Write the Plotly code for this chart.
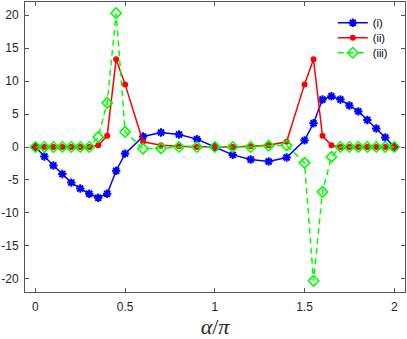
import plotly.graph_objects as go

x_vals = [0, 0.05, 0.1, 0.15, 0.2, 0.25, 0.3, 0.35, 0.4, 0.45, 0.5,
          0.6, 0.7, 0.8, 0.9, 1.0, 1.1, 1.2, 1.3, 1.4,
          1.5, 1.55, 1.6, 1.65, 1.7, 1.75, 1.8, 1.85, 1.9, 1.95, 2.0]

series_i = [0, -1.45, -2.8, -4.1, -5.4, -6.3, -7.1, -7.7, -7.1, -3.6, -1.0,
            1.6, 2.2, 1.9, 1.2, 0.0, -1.2, -1.9, -2.2, -1.6,
            1.0, 3.6, 7.2, 7.7, 7.2, 6.3, 5.4, 4.1, 2.8, 1.45, 0.0]

series_ii = [0, 0, 0, 0, 0, 0, 0, 0.25, 1.7, 13.3, 9.5,
             0.8, 0.25, 0.1, 0.0, 0.0, 0.0, 0.1, 0.25, 0.8,
             9.5, 13.3, 1.7, 0.25, 0, 0, 0, 0, 0, 0, 0]

series_iii = [0, 0, 0, 0, 0, 0, 0, 1.5, 6.7, 20.3, 2.3,
              -0.25, -0.2, 0, 0, 0, 0, 0, 0.2, 0.25,
              -2.4, -20.3, -6.8, -1.5, 0, 0, 0, 0, 0, 0, 0]

names = ["(i)", "(ii)", "(iii)"]
x_ticks = [0, 0.5, 1, 1.5, 2]
x_ticklabels = ["0", "0.5", "1", "1.5", "2"]
y_ticks = [-20, -15, -10, -5, 0, 5, 10, 15, 20]
y_ticklabels = ["-20", "-15", "-10", "-5", "0", "5", "10", "15", "20"]

fig = go.Figure()
fig.add_trace(go.Scatter(
    x=x_vals, y=series_i, name=names[0], mode="lines+markers", legend="legend",
    line=dict(color="#0000ff", width=1.5),
    marker=dict(symbol="asterisk-open", size=7, color="#0000ff",
                line=dict(color="#0000ff", width=2)),
))
fig.add_trace(go.Scatter(
    x=x_vals, y=series_ii, name=names[1], mode="lines+markers", legend="legend2",
    line=dict(color="#ff0000", width=1.5),
    marker=dict(symbol="circle", size=6, color="#ff0000"),
))
fig.add_trace(go.Scatter(
    x=x_vals, y=series_iii, name=names[2], mode="lines+markers", legend="legend3",
    line=dict(color="#00ff00", width=1.5, dash="6px,4px"),
    marker=dict(symbol="diamond-open", size=8, color="#00ff00",
                line=dict(color="#00ff00", width=1.6)),
))

axis_common = dict(
    showgrid=False, zeroline=False, showline=True, linecolor="#555555",
    linewidth=1, mirror="ticks", ticks="inside", ticklen=4, automargin=False,
    tickcolor="#555555", tickfont=dict(family="Liberation Sans, Arial", size=12, color="#262626"),
)

leg_common = dict(x=0.81, xanchor="left", yanchor="middle",
                  bgcolor="rgba(255,255,255,0)", borderwidth=0,
                  font=dict(family="Liberation Sans, Arial", size=11, color="#000000"),
                  itemwidth=30)

fig.update_layout(
    width=407, height=339,
    margin=dict(l=25, r=2, t=2, b=47),
    paper_bgcolor="white", plot_bgcolor="white",
    showlegend=True,
    legend=dict(y=0.9286, **leg_common),
    legend2=dict(y=0.877, **leg_common),
    legend3=dict(y=0.825, **leg_common),
    xaxis=dict(range=[-0.058, 2.06], tickvals=x_ticks, ticktext=x_ticklabels,
               ticklabelstandoff=4,
               title=dict(text="<i>α</i>/<i>π</i>", standoff=8,
                          font=dict(family="Liberation Serif, DejaVu Serif, serif", size=22, color="#262626")),
               **axis_common),
    yaxis=dict(range=[-22, 22], tickvals=y_ticks, ticktext=y_ticklabels,
               ticklabelstandoff=3, **axis_common),
)

fig.write_html("out.html", config={"displayModeBar": False},
               post_script="document.body.style.margin='0';document.body.style.padding='0';")
